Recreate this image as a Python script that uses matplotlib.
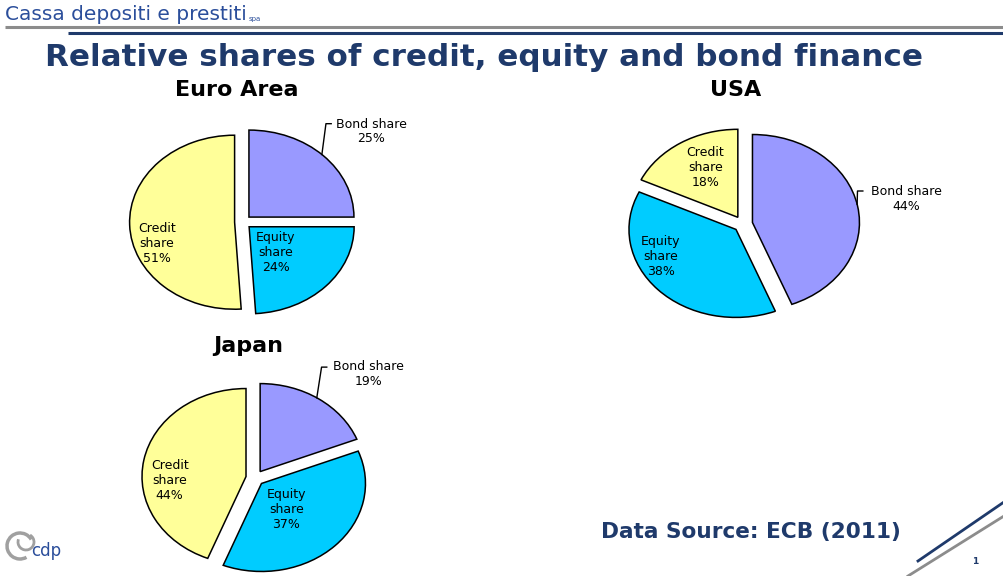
import matplotlib.pyplot as plt
from matplotlib.patches import Arc
import numpy as np

# data (ECB 2011)
regions = ["Euro Area", "USA", "Japan"]
categories = ["Bond share", "Equity share", "Credit share"]
bond_share = [25, 44, 19]
equity_share = [24, 38, 37]
credit_share = [51, 18, 44]

colors = ["#9999FF", "#00CCFF", "#FFFF99"]
navy = "#1F3A6B"

# layout per pie: centre (px), radii (px), explode, label spots in data units
layout = {
    "Euro Area": dict(c=(243, 222), rx=105, ry=87, ex=0.08, title=(237, 90),
                      bond_txt=(1.22, 1.20), corner=(0.79, 1.13), lead_ang=46,
                      eq_txt=(0.31, -0.35), cr_txt=(-0.82, -0.25)),
    "USA": dict(c=(743, 224), rx=107, ry=88, ex=0.09, title=(736, 90),
                bond_txt=(1.53, 0.44), corner=(1.07, 0.375), lead_ang=12,
                eq_txt=(-0.77, -0.37), cr_txt=(-0.35, 0.64)),
    "Japan": dict(c=(255, 478), rx=104, ry=88, ex=0.088, title=(248, 346),
                  bond_txt=(1.09, 1.34), corner=(0.64, 1.26), lead_ang=57,
                  eq_txt=(0.30, -0.36), cr_txt=(-0.82, -0.03)),
}

W, H = 1004, 576
fig = plt.figure(figsize=(W / 100, H / 100), dpi=100)
fig.patch.set_facecolor("white")

# slide decorations in pixel coords
deco = fig.add_axes([0, 0, 1, 1])
deco.set_xlim(0, W)
deco.set_ylim(H, 0)
deco.axis("off")

deco.text(5, 14, "Cassa depositi e prestiti", fontsize=14.5, color="#2B4E9B",
          va="center", ha="left")
deco.text(249, 19, "spa", fontsize=5, color="#2B4E9B", va="center", ha="left")
deco.plot([5, W], [27, 27], color="#8C8C8C", lw=2.2, solid_capstyle="butt")
deco.plot([68, W], [33, 33], color=navy, lw=2.2, solid_capstyle="butt")

deco.text(484, 58, "Relative shares of credit, equity and bond finance",
          fontsize=22.3, fontweight="bold", color=navy, ha="center", va="center")

deco.text(751, 532, "Data Source: ECB (2011)", fontsize=15.6, fontweight="bold",
          color=navy, ha="center", va="center")

deco.plot([918, 1004], [561, 502], color=navy, lw=2)
deco.plot([908, 1004], [576, 516], color="#8C8C8C", lw=2)
deco.text(975, 561, "1", fontsize=6.5, fontweight="bold", color=navy,
          ha="center", va="center")

# cdp logo (rough)
deco.add_patch(Arc((20, 546), 26, 26, theta1=60, theta2=330, color="#A0A0A0", lw=2.5))
deco.add_patch(Arc((26, 542), 16, 16, theta1=-60, theta2=200, color="#A0A0A0", lw=2))
deco.text(31, 551, "cdp", fontsize=12, color="#2B4E9B", ha="left", va="center")

Lx, Ly = 2.2, 1.6
for i, reg in enumerate(regions):
    lay = layout[reg]
    cx, cy = lay["c"]
    rx, ry = lay["rx"], lay["ry"]
    # axes sized so 1 data unit = rx px horizontally and ry px vertically
    left = (cx - Lx * rx) / W
    bottom = (H - cy - Ly * ry) / H
    ax = fig.add_axes([left, bottom, 2 * Lx * rx / W, 2 * Ly * ry / H])

    vals = [bond_share[i], equity_share[i], credit_share[i]]
    wedges, _ = ax.pie(vals, colors=colors, startangle=90, counterclock=False,
                       explode=[lay["ex"]] * 3,
                       wedgeprops=dict(edgecolor="black", linewidth=1.1))
    ax.set_aspect("auto")
    ax.set_xlim(-Lx, Lx)
    ax.set_ylim(-Ly, Ly)
    ax.axis("off")

    # bond label outside with leader line
    bw = wedges[0]
    a = np.deg2rad(lay["lead_ang"])
    px = bw.center[0] + bw.r * np.cos(a)
    py = bw.center[1] + bw.r * np.sin(a)
    kx, ky = lay["corner"]
    ax.plot([px, kx, kx + 0.05], [py, ky, ky], color="black", lw=1)
    tx, ty = lay["bond_txt"]
    ax.text(tx, ty, f"Bond share\n{vals[0]}%", fontsize=9, ha="center",
            va="top", linespacing=1.15)

    ex_, ey_ = lay["eq_txt"]
    ax.text(ex_, ey_, f"Equity\nshare\n{vals[1]}%", fontsize=9, ha="center",
            va="center", linespacing=1.2)
    cx_, cy_ = lay["cr_txt"]
    ax.text(cx_, cy_, f"Credit\nshare\n{vals[2]}%", fontsize=9, ha="center",
            va="center", linespacing=1.2)

    deco.text(*lay["title"], reg, fontsize=16, fontweight="bold",
              color="black", ha="center", va="center")

fig.savefig("out.png", dpi=100, facecolor="white")
